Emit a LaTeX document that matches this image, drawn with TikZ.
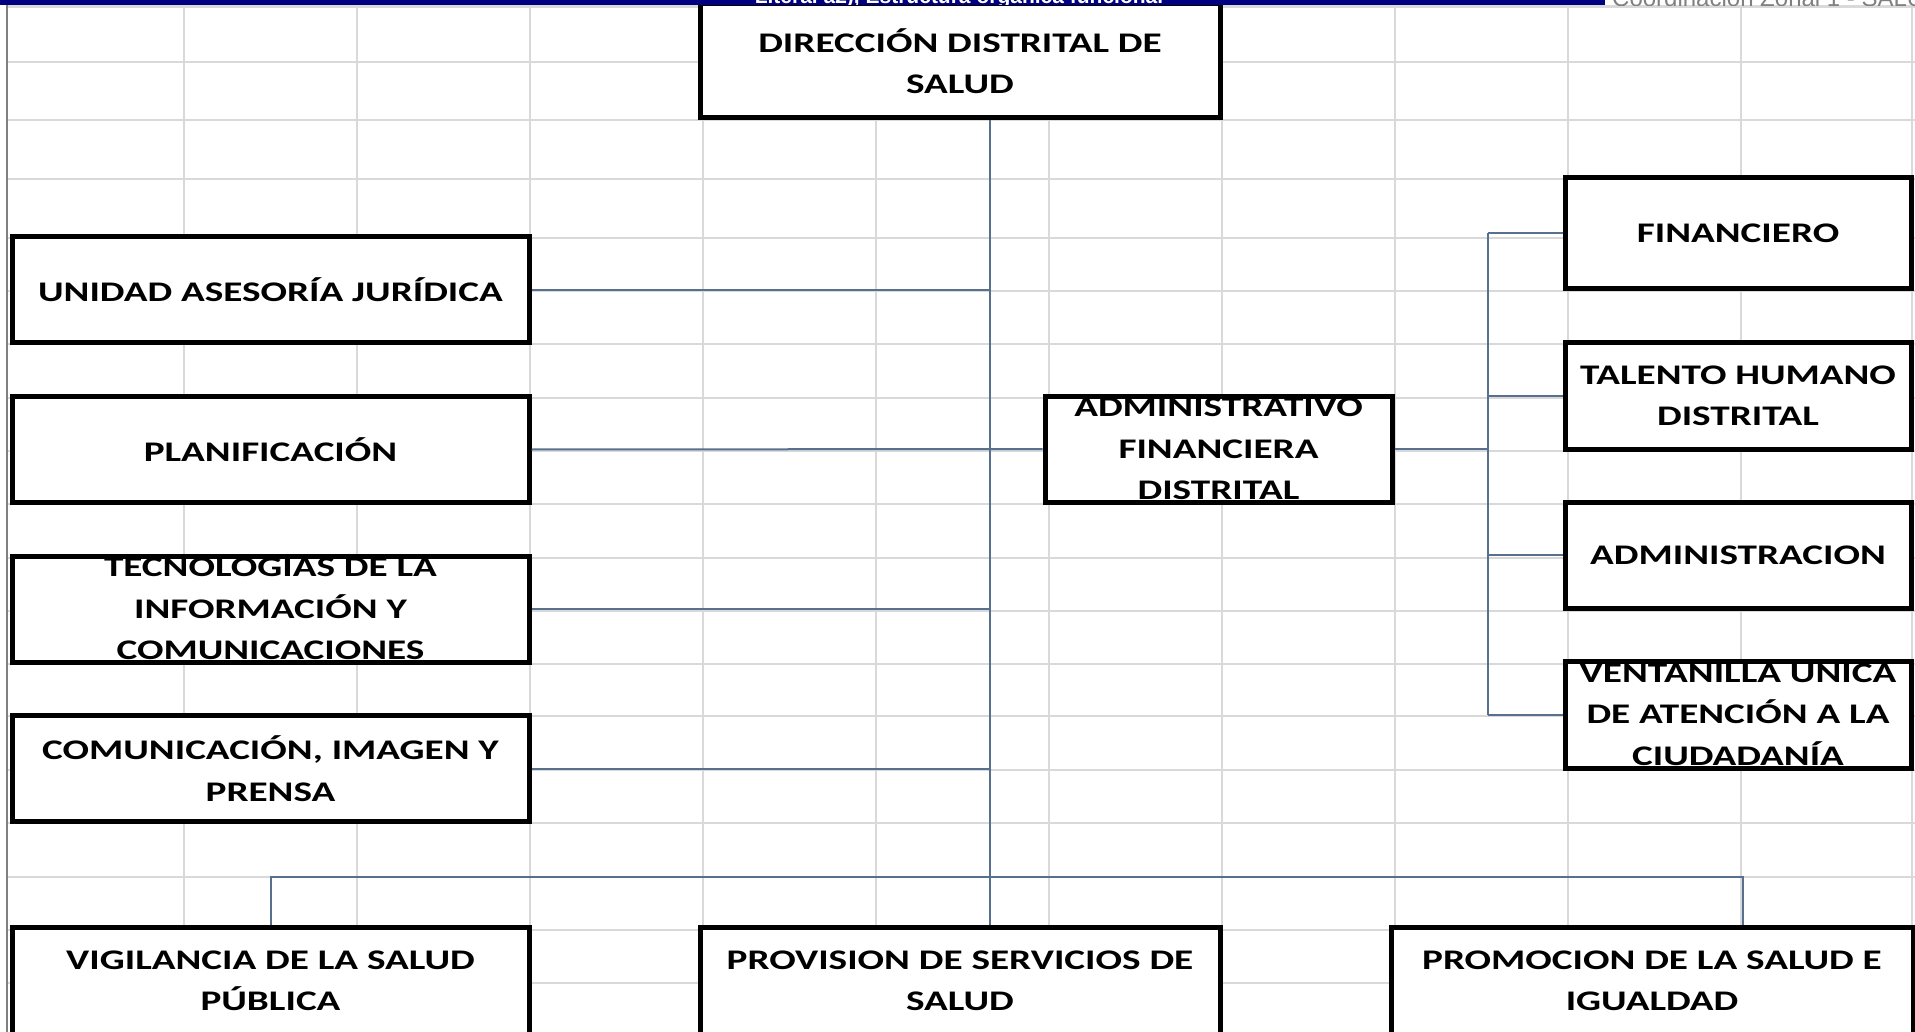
\documentclass[tikz,border=0pt]{standalone}
\usepackage{fontspec}
\setmainfont{Carlito}[FakeStretch=1.38]
\newfontfamily\headfont{Liberation Sans}
\definecolor{linkblue}{HTML}{56708E}
\definecolor{gridgray}{HTML}{D9D9D9}
\definecolor{headnavy}{HTML}{000080}
\tikzset{
  unit/.style={draw, line width=5pt, fill=white, inner sep=0pt,
    path picture={\node[unittext] at (path picture bounding box.center) {#1};}},
  unittext/.style={align=center, font=\bfseries\fontsize{28.4}{41.5}\selectfont},
  link/.style={draw=linkblue, line width=2pt},
  gridline/.style={draw=gridgray, line width=2.2pt},
}

\begin{document}
\begin{tikzpicture}[x=1pt, y=-1pt]
    \path[use as bounding box] (0,0) rectangle (1915,1032);
    \clip (0,0) rectangle (1915,1032);

    % Sheet grid
    \foreach \gx in {184,357,530,703,876,1049,1222,1395,1568,1741,1912}
        \draw[gridline] (\gx,7) -- (\gx,1032);
    \foreach \gy in {6.5,62,120,179,238,291,344,398,451,504,558,611,664,716,770,823,877,930,983}
        \draw[gridline] (7,\gy) -- (1915,\gy);
    \draw[gray, line width=2pt] (7,5) -- (7,1032);

    % Top unit
    \node[unit={DIRECCIÓN DISTRITAL DE\\SALUD}, minimum width=520pt, minimum height=114pt] (dds) at (960,61) {};

    % Left units
    \foreach \name/\cy/\txt in {uaj/290/{UNIDAD ASESORÍA JURÍDICA}, plan/449.5/{PLANIFICACIÓN},
        tic/609/{TECNOLOGIAS DE LA\\INFORMACIÓN Y\\COMUNICACIONES}, cip/768.5/{COMUNICACIÓN, IMAGEN Y\\PRENSA}}
        \node[unit=\txt, minimum width=517pt, minimum height=106pt] (\name) at (270.5,\cy) {};

    % Administrative unit and its areas
    \node[unit={ADMINISTRATIVO\\FINANCIERA\\DISTRITAL}, minimum width=347pt, minimum height=106pt] (afd) at (1218.5,449) {};
    \foreach \name/\cy/\hh/\txt in {fin/233.5/111/{FINANCIERO}, thd/396/106/{TALENTO HUMANO\\DISTRITAL},
        adm/555/106/{ADMINISTRACION}, vuc/714.5/107/{VENTANILLA UNICA\\DE ATENCIÓN A LA\\CIUDADANÍA}}
        \node[unit=\txt, minimum width=346pt, minimum height=\hh pt] (\name) at (1738,\cy) {};

    % Bottom units
    \node[unit={VIGILANCIA DE LA SALUD\\PÚBLICA}, minimum width=517pt, minimum height=108pt] (vsp) at (270.5,981) {};
    \node[unit={PROVISION DE SERVICIOS DE\\SALUD}, minimum width=520pt, minimum height=108pt] (pss) at (960,981) {};
    \node[unit={PROMOCION DE LA SALUD E\\IGUALDAD}, minimum width=522pt, minimum height=108pt] (psi) at (1652,981) {};

    % Connectors
    \coordinate (spine) at (990,0);
    \coordinate (rbus) at (1488,0);
    \coordinate (pdrop) at (1743,877);
    \draw[link] (dds.south -| spine) -- (pss.north -| spine);
    \foreach \name in {uaj,tic,cip}
        \draw[link] (\name.east) -- (\name.east -| spine);
    \draw[link] (plan.east) -- (afd.west);
    \draw[link] (vsp.north) |- (pdrop) -- (pdrop |- psi.north);
    \draw[link] (afd.east) -- (afd.east -| rbus);
    \draw[link] (fin.west -| rbus) -- (vuc.west -| rbus);
    \foreach \name in {fin,thd,adm,vuc}
        \draw[link] (\name.west -| rbus) -- (\name.west);

    % Page header
    \fill[headnavy] (0,0) rectangle (1605,5);
    \begin{scope}
        \clip (0,0) rectangle (1605,5);
        \node[anchor=base, inner sep=0pt, text=white, font=\headfont\bfseries\fontsize{21}{21}\selectfont] (hdr) at (959,4) {Literal a2), Estructura orgánica funcional};
    \end{scope}
    \begin{scope}
        \clip (1605,0) rectangle (1915,5.5);
        \node[anchor=base west, inner sep=0pt, text=gray, font=\headfont\fontsize{24}{24}\selectfont] (zonal) at (1612,7) {Coordinación Zonal 1 - SALUD};
    \end{scope}
\end{tikzpicture}
\end{document}
